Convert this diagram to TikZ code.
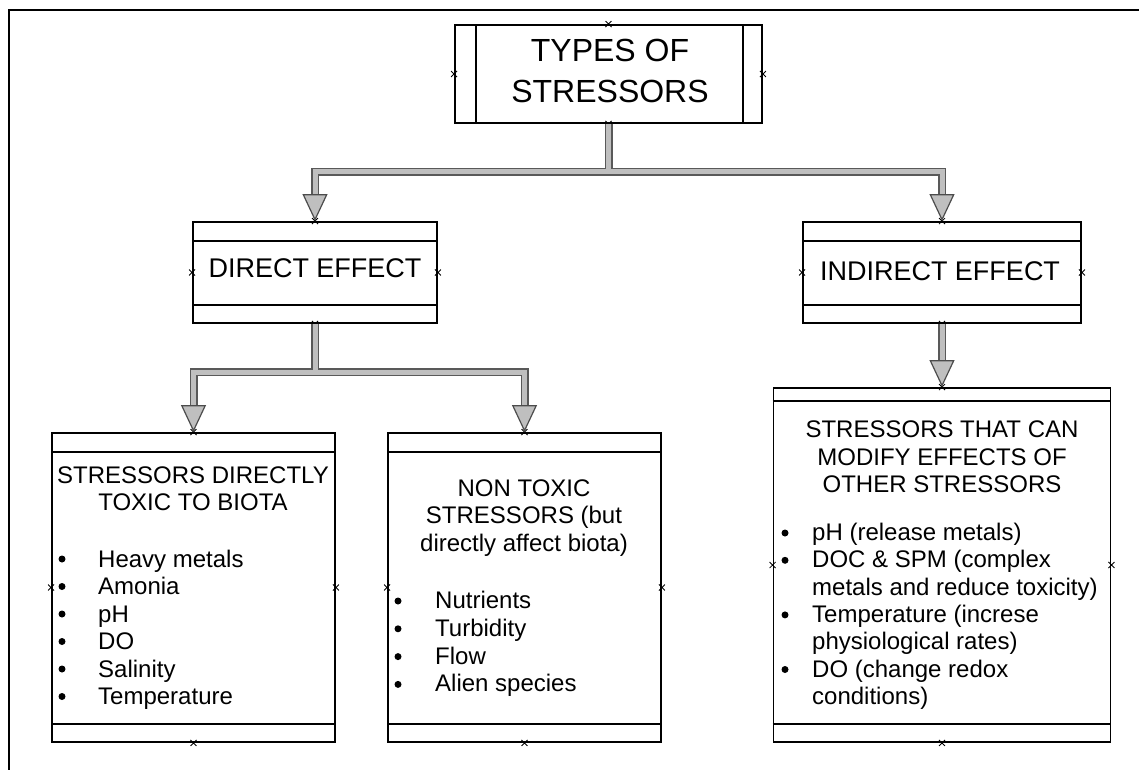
\documentclass[tikz,border=0pt]{standalone}
\usepackage{fontspec}
\setmainfont{Liberation Sans}
\usetikzlibrary{arrows.meta,calc}

\begin{document}
\begin{tikzpicture}[x=1pt,y=-1pt,
  frame/.style={line width=2.4pt},
  boxshape/.style={draw, line width=1.9pt, rectangle, inner sep=0pt},
  band/.style={line width=1.5pt},
  titletext/.style={font=\fontsize{32}{41}\selectfont, align=center, inner sep=0pt},
  effect/.style={font=\fontsize{27}{32}\selectfont, inner sep=0pt},
  head/.style={font=\fontsize{24}{27.5}\selectfont, align=center, inner sep=0pt},
  item/.style={font=\fontsize{24}{27.5}\selectfont, anchor=base west, inner sep=0pt},
  bullet/.style={fill=black, circle, inner sep=0pt, minimum size=7pt},
  connout/.style={line width=8pt, draw=black!65, line join=miter,
    -{Triangle[width=25pt,length=27pt,fill=gray!50,color=black!70,line width=1.2pt]}},
  connin/.style={line width=5pt, draw=gray!50, line join=miter, shorten >=27pt},
  cross/.style={line width=0.8pt}
]
\useasboundingbox (0,0) rectangle (1139,770);

% outer frame (top and left edges)
\draw[frame] (1139,10) -- (9,10) -- (9,770);

% boxes
\node[boxshape, minimum width=307pt, minimum height=98pt] (types) at (608.5,74) {};
\node[boxshape, minimum width=244pt, minimum height=101pt] (direct) at (315,272.5) {};
\node[boxshape, minimum width=278pt, minimum height=101pt] (indirect) at (942,272.5) {};
\node[boxshape, minimum width=283pt, minimum height=309pt] (toxic) at (193.5,587.5) {};
\node[boxshape, minimum width=273pt, minimum height=309pt] (nontoxic) at (524.5,587.5) {};
\node[boxshape, minimum width=337pt, minimum height=354pt] (modify) at (942,565) {};

% inner bands of the boxes
\draw[band] ($(types.north west)+(22,0)$) -- ($(types.south west)+(22,0)$);
\draw[band] ($(types.north east)+(-20,0)$) -- ($(types.south east)+(-20,0)$);
\foreach \b in {direct,indirect,toxic,nontoxic}{
  \draw[band] ($(\b.north west)+(0,20)$) -- ($(\b.north east)+(0,20)$);
  \draw[band] ($(\b.south west)+(0,-19)$) -- ($(\b.south east)+(0,-19)$);
}
\draw[band] ($(modify.north west)+(0,14)$) -- ($(modify.north east)+(0,14)$);
\draw[band] ($(modify.south west)+(0,-19)$) -- ($(modify.south east)+(0,-19)$);

% texts
\node[titletext] (typestext) at (610,71) {TYPES OF\\STRESSORS};
\node[effect] (directtext) at (315,268) {DIRECT EFFECT};
\node[effect] (indirecttext) at (940,271) {INDIRECT EFFECT};
\node[head] (toxichead) at (193,488.5) {STRESSORS DIRECTLY\\TOXIC TO BIOTA};
\node[head] (nontoxichead) at (524,518) {NON TOXIC\\STRESSORS (but\\directly affect biota)};
\node[head] (modifyhead) at (942,457) {STRESSORS THAT CAN\\MODIFY EFFECTS OF\\OTHER STRESSORS};

% bullet lists
\foreach \t [count=\i from 0] in {Heavy metals, Amonia, pH, DO, Salinity, Temperature}{
  \node[item] (ta\i) at (98,567+27.5*\i) {\t};
  \node[bullet] (tb\i) at (62,559+27.5*\i) {};
}
\foreach \t [count=\i from 0] in {Nutrients, Turbidity, Flow, Alien species}{
  \node[item] (na\i) at (435,608.5+27.8*\i) {\t};
  \node[bullet] (nb\i) at (398,601+27.8*\i) {};
}
\node[item] (ma0) at (812,540.6) {pH (release metals)};
\node[item] (ma1) at (812,567.9) {DOC \& SPM (complex};
\node[item] (ma2) at (812,595.2) {metals and reduce toxicity)};
\node[item] (ma3) at (812,622.5) {Temperature (increse};
\node[item] (ma4) at (812,649.8) {physiological rates)};
\node[item] (ma5) at (812,677.1) {DO (change redox};
\node[item] (ma6) at (812,704.4) {conditions)};
\node[bullet] (mb0) at (785,533) {};
\node[bullet] (mb1) at (785,560.3) {};
\node[bullet] (mb3) at (785,614.9) {};
\node[bullet] (mb5) at (785,669.5) {};

% connection point marks
\foreach \b in {types,direct,indirect,toxic,nontoxic,modify}{
  \foreach \a in {north,south,east,west}{
    \draw[cross] ($(\b.\a)+(-3,-3)$) -- ($(\b.\a)+(3,3)$)
                 ($(\b.\a)+(-3,3)$) -- ($(\b.\a)+(3,-3)$);
  }
}

% connectors
\coordinate (split1) at (608.5,172);
\coordinate (split2) at (315,372);
\draw[connout] (types.south) -- (split1) -| (direct.north);
\draw[connout] (types.south) -- (split1) -| (indirect.north);
\draw[connout] (direct.south) -- (split2) -| (toxic.north);
\draw[connout] (direct.south) -- (split2) -| (nontoxic.north);
\draw[connout] (indirect.south) -- (modify.north);
\draw[connin] (types.south) -- (split1) -| (direct.north);
\draw[connin] (types.south) -- (split1) -| (indirect.north);
\draw[connin] (direct.south) -- (split2) -| (toxic.north);
\draw[connin] (direct.south) -- (split2) -| (nontoxic.north);
\draw[connin] (indirect.south) -- (modify.north);
\end{tikzpicture}
\end{document}
